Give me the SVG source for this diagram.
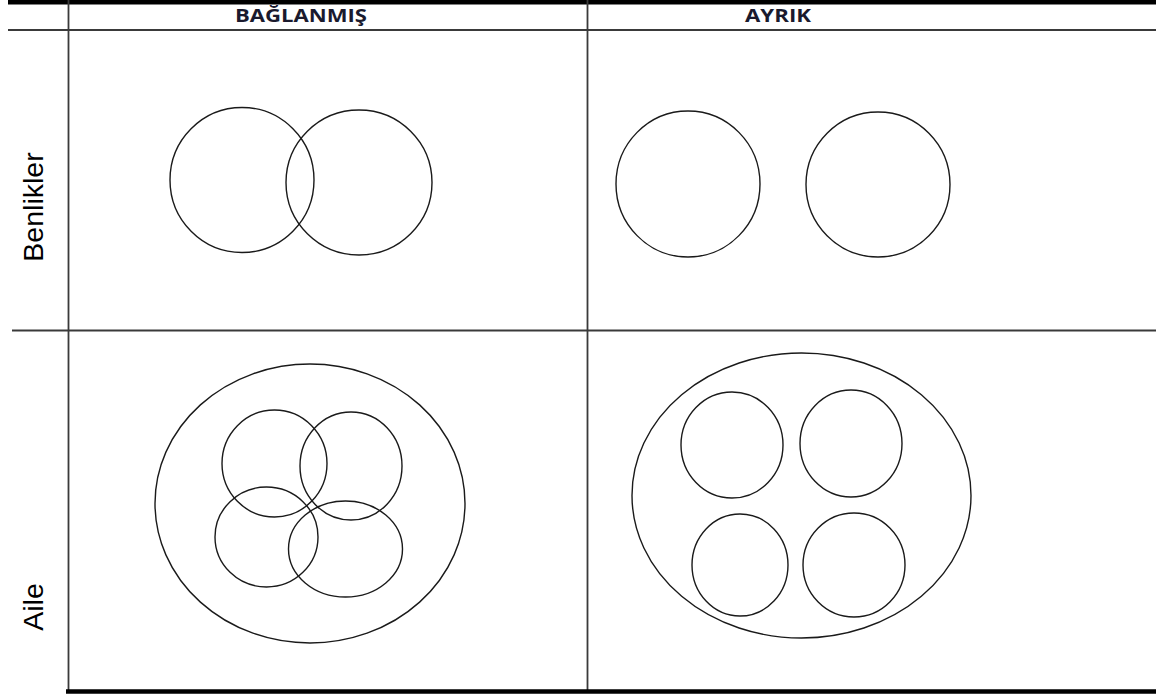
<svg xmlns="http://www.w3.org/2000/svg" width="1156" height="695" viewBox="0 0 1156 695">
<style>
.c{fill:none;stroke:#1a1a1a;stroke-width:1.4}
.g{stroke:#3a3a3a;stroke-width:1.8;fill:none}
.t{stroke:#000;stroke-width:4.5;fill:none}
.h{font-family:"Open Sans","Liberation Sans",sans-serif;font-weight:bold;font-size:18px;fill:#1a1a2e;text-anchor:middle}
.r{font-family:"Liberation Sans",Arial,sans-serif;font-size:28.5px;fill:#000;text-anchor:middle}
</style>
<rect width="1156" height="695" fill="#fff"/>
<g id="grid">
<line class="t" x1="8" y1="2.3" x2="1156" y2="2.3"/>
<line class="g" x1="8" y1="30" x2="1156" y2="30"/>
<line class="g" x1="12" y1="330.5" x2="1156" y2="330.5"/>
<line class="g" x1="68.5" y1="0" x2="68.5" y2="690"/>
<line class="g" x1="587.5" y1="0" x2="587.5" y2="690"/>
<line class="t" x1="66" y1="691.5" x2="1156" y2="691.5"/>
</g>
<g id="header-baglanmis"><text class="h" x="301" y="21.5" textLength="132" lengthAdjust="spacingAndGlyphs">BAĞLANMIŞ</text></g>
<g id="header-ayrik"><text class="h" x="778" y="21.5" textLength="66" lengthAdjust="spacingAndGlyphs">AYRIK</text></g>
<g id="label-benlikler"><text class="r" transform="translate(43,207) rotate(-90)">Benlikler</text></g>
<g id="label-aile"><text class="r" transform="translate(43,607) rotate(-90)">Aile</text></g>
<g id="benlikler-bagli">
<ellipse class="c" cx="242" cy="180" rx="72" ry="72.5"/>
<ellipse class="c" cx="359" cy="182.5" rx="73" ry="72.5"/>
</g>
<g id="benlikler-ayrik">
<ellipse class="c" cx="688" cy="184" rx="72" ry="73"/>
<ellipse class="c" cx="878" cy="184.5" rx="72" ry="72.5"/>
</g>
<g id="aile-bagli">
<ellipse class="c" cx="310" cy="503.5" rx="155" ry="139.5"/>
<ellipse class="c" cx="274.5" cy="463.5" rx="52.5" ry="53.5"/>
<ellipse class="c" cx="351" cy="466" rx="51" ry="54"/>
<ellipse class="c" cx="266.5" cy="537" rx="51.5" ry="50"/>
<ellipse class="c" cx="345.5" cy="549" rx="57" ry="48"/>
</g>
<g id="aile-ayrik">
<ellipse class="c" cx="801.5" cy="495.5" rx="169.5" ry="142.5"/>
<ellipse class="c" cx="732" cy="445" rx="51" ry="53"/>
<ellipse class="c" cx="851" cy="443.5" rx="51" ry="53.5"/>
<ellipse class="c" cx="740" cy="565" rx="48" ry="51"/>
<ellipse class="c" cx="854" cy="565" rx="51" ry="52"/>
</g>
</svg>
